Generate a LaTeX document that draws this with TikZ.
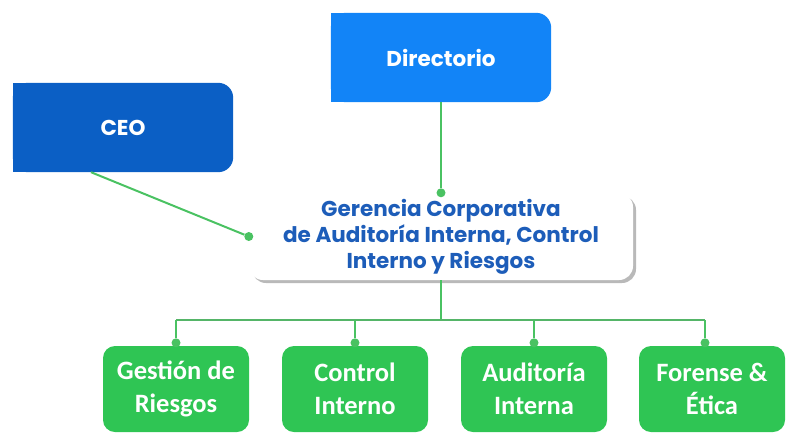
\documentclass[tikz,border=0pt]{standalone}
\usepackage{fontspec}
\setmainfont{Poppins}
\newfontfamily\unitfont{Carlito}
\usetikzlibrary{backgrounds,shadows}

\definecolor{ceoblue}{HTML}{0B5FC5}
\definecolor{dirblue}{HTML}{1284F7}
\definecolor{gerblue}{HTML}{1D5DB9}
\definecolor{unitgreen}{HTML}{2FC554}
\definecolor{linkgreen}{HTML}{4AC262}

\tikzset{
  head/.style={text=white, font=\bfseries\fontsize{21.5}{26}\selectfont,
    minimum width=220pt, minimum height=89pt, inner sep=0pt},
  unit/.style={fill=unitgreen, rounded corners=12pt, text=white, align=center,
    font=\unitfont\bfseries\fontsize{26.5}{33}\selectfont,
    minimum width=146pt, minimum height=86pt, inner sep=0pt},
  link/.style={linkgreen, line width=2pt},
  buslink/.style={linkgreen!80!gray, line width=1.5pt},
  dot/.style={circle, fill=linkgreen, inner sep=0pt, minimum size=9pt},
}

\begin{document}
\begin{tikzpicture}[x=1pt, y=-1pt]
\useasboundingbox (0,0) rectangle (786,434);

\node[head] (ceo) at (123, 127.5) {CEO};
\node[head] (dir) at (441, 57.5) {Directorio};
\node[fill=white, rounded corners=14pt, text=gerblue, align=center,
  font=\bfseries\fontsize{21.5}{26}\selectfont,
  minimum width=384pt, minimum height=87pt, inner sep=0pt,
  drop shadow={shadow xshift=3pt, shadow yshift=-3pt, fill=black!50, opacity=.55}]
  (ger) at (441, 236.5) {Gerencia Corporativa\\de Auditoría Interna, Control\\Interno y Riesgos};

\node[unit] (g1) at (176, 389) {Gestión de\\Riesgos};
\node[unit] (g2) at (355, 389) {Control\\Interno};
\node[unit] (g3) at (534, 389) {Auditoría\\Interna};
\node[unit] (g4) at (712, 389) {Forense \&\\Ética};

\begin{scope}[on background layer]
\fill[ceoblue, rounded corners=15pt] (ceo.south west) rectangle (ceo.north east);
\fill[ceoblue] (ceo.south west) rectangle (ceo.north);
\fill[dirblue, rounded corners=15pt] (dir.south west) rectangle (dir.north east);
\fill[dirblue] (dir.south west) rectangle (dir.north);
\end{scope}

\node[dot] (d0) at (ger.north) {};
\node[dot] (dc) at (ger.west) {};
\draw[link] (dir.south) -- (d0);
\draw[link] ([xshift=-32pt]ceo.south) -- (dc);

\coordinate (bus) at (441, 320);
\node[dot] (d1) at ([yshift=3pt]g1.north) {};
\node[dot] (d2) at ([yshift=3pt]g2.north) {};
\node[dot] (d3) at ([yshift=3pt]g3.north) {};
\node[dot] (d4) at ([xshift=-7pt, yshift=3pt]g4.north) {};
\draw[link] (ger.south) -- (bus);
\draw[buslink] (d1 |- bus) -- (d4 |- bus);
\draw[link] (d1 |- bus) -- (d1);
\draw[link] (d2 |- bus) -- (d2);
\draw[link] (d3 |- bus) -- (d3);
\draw[link] (d4 |- bus) -- (d4);
\end{tikzpicture}
\end{document}
